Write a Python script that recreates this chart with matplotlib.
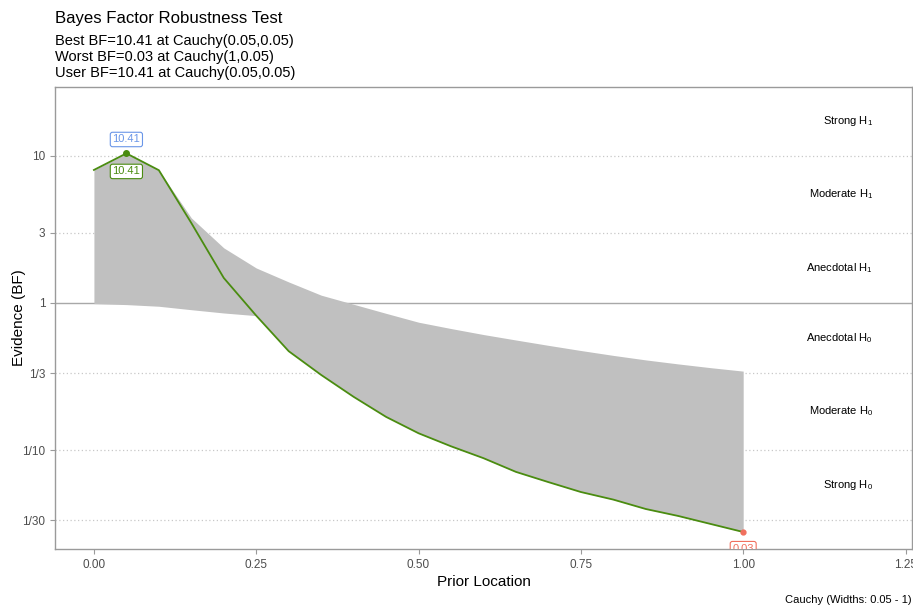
import numpy as np
import matplotlib.pyplot as plt

plt.rcParams['font.family'] = ['Liberation Sans', 'DejaVu Sans']
plt.rcParams['mathtext.fontset'] = 'custom'
plt.rcParams['mathtext.rm'] = 'Liberation Sans'
plt.rcParams['mathtext.it'] = 'Liberation Sans'

# Data
locations = [0.00, 0.05, 0.10, 0.15, 0.20, 0.25, 0.30, 0.35, 0.40, 0.45, 0.50,
             0.55, 0.60, 0.65, 0.70, 0.75, 0.80, 0.85, 0.90, 0.95, 1.00]
user_bf = [8.03, 10.41, 8.0, 3.5, 1.48, 0.82, 0.47, 0.324, 0.23, 0.168, 0.13,
           0.106, 0.088, 0.071, 0.0605, 0.0518, 0.046, 0.0397, 0.0356, 0.0314, 0.0277]
upper_bf = [8.03, 10.41, 8.0, 3.79, 2.37, 1.73, 1.39, 1.13, 0.98, 0.85, 0.74,
            0.67, 0.61, 0.56, 0.515, 0.475, 0.44, 0.41, 0.385, 0.363, 0.344]
lower_bf = [0.99, 0.975, 0.95, 0.9, 0.855, 0.82, 0.47, 0.324, 0.23, 0.168, 0.13,
            0.106, 0.088, 0.071, 0.0605, 0.0518, 0.046, 0.0397, 0.0356, 0.0314, 0.0277]

best_loc, best_bf = 0.05, 10.41
worst_loc, worst_bf = 1.00, 0.0277

ytick_vals = [1/30, 1/10, 1/3, 1, 3, 10]
ytick_labels = ['1/30', '1/10', '1/3', '1', '3', '10']
xtick_vals = [0.0, 0.25, 0.5, 0.75, 1.0, 1.25]
xtick_labels = ['0.00', '0.25', '0.50', '0.75', '1.00', '1.25']

zone_labels = [r'Strong H$_1$', r'Moderate H$_1$', r'Anecdotal H$_1$',
               r'Anecdotal H$_0$', r'Moderate H$_0$', r'Strong H$_0$']
zone_pos = [np.sqrt(300), np.sqrt(30), np.sqrt(3), 1/np.sqrt(3), 1/np.sqrt(30), 1/np.sqrt(300)]

green = '#4A8C10'
blue = '#6A96E8'
red = '#F0705E'
spine_col = '#9A9A9A'
text_col = '#4D4D4D'

fig = plt.figure(figsize=(9.13, 6.07), dpi=100)
ax = fig.add_axes([0.0602, 0.0956, 0.9387, 0.7611])

ax.set_yscale('log')
ax.set_xlim(-0.06, 1.26)
ax.set_ylim(10**-1.673, 10**1.469)

# grid
for v in ytick_vals:
    if v == 1:
        ax.axhline(v, color='#A8A8A8', lw=1, zorder=1)
    else:
        ax.axhline(v, color='#C8C8C8', lw=0.9, ls=(0, (1, 2)), zorder=1)

ax.fill_between(locations, lower_bf, upper_bf, color='#C0C0C0', lw=0, zorder=2)
ax.plot(locations, user_bf, color=green, lw=1.3, zorder=3)
ax.plot([best_loc], [best_bf], 'o', color=green, ms=4, zorder=4)
ax.plot([worst_loc], [worst_bf], 'o', color=red, ms=3.5, zorder=4)

box = dict(boxstyle='round,pad=0.2,rounding_size=0.2', fc='white', lw=0.8)
ax.annotate('10.41', (best_loc, best_bf), xytext=(0, 10), textcoords='offset points',
            ha='center', va='center', fontsize=8, color=blue,
            bbox=dict(box, ec=blue), zorder=5)
ax.annotate('10.41', (best_loc, best_bf), xytext=(0, -13), textcoords='offset points',
            ha='center', va='center', fontsize=8, color=green,
            bbox=dict(box, ec=green), zorder=5)
ax.annotate('0.03', (worst_loc, worst_bf), xytext=(0, -12), textcoords='offset points',
            ha='center', va='center', fontsize=8, color=red,
            bbox=dict(box, ec=red), zorder=5, annotation_clip=False, clip_on=True)

for lab, y in zip(zone_labels, zone_pos):
    ax.text(1.2, y, lab, ha='right', va='center', fontsize=8, color='black')

ax.set_yticks(ytick_vals)
ax.set_yticklabels(ytick_labels)
ax.minorticks_off()
ax.set_xticks(xtick_vals)
ax.set_xticklabels(xtick_labels)
ax.tick_params(colors=spine_col, labelcolor=text_col, labelsize=8.5, length=3.5, width=0.8)

for s in ax.spines.values():
    s.set_color(spine_col)
    s.set_linewidth(1)

ax.set_xlabel('Prior Location', fontsize=11, labelpad=3)
ax.set_ylabel('Evidence (BF)', fontsize=11)
ax.yaxis.set_label_coords(-0.034, 0.5)

fig.text(0.0602, 0.970, 'Bayes Factor Robustness Test', fontsize=12.1, ha='left', va='center')
fig.text(0.0602, 0.932, 'Best BF=10.41 at Cauchy(0.05,0.05)', fontsize=10.5, ha='left', va='center')
fig.text(0.0602, 0.906, 'Worst BF=0.03 at Cauchy(1,0.05)', fontsize=10.5, ha='left', va='center')
fig.text(0.0602, 0.880, 'User BF=10.41 at Cauchy(0.05,0.05)', fontsize=10.5, ha='left', va='center')
fig.text(0.998, 0.012, 'Cauchy (Widths: 0.05 - 1)', fontsize=8, ha='right', va='center')

fig.savefig('out.png', dpi=100)
